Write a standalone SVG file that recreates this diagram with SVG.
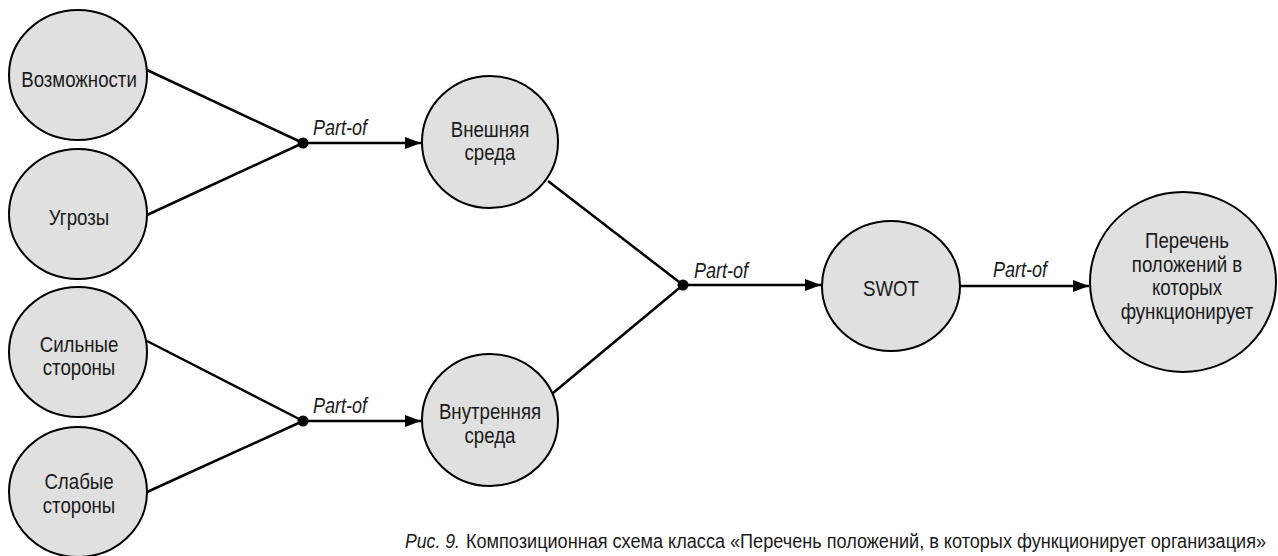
<svg xmlns="http://www.w3.org/2000/svg" width="1278" height="556" viewBox="0 0 1278 556">
<style>
.n ellipse{fill:#e0e0e0;stroke:#000;stroke-width:2}
.n text{font-family:"Liberation Sans",Arial,sans-serif;font-size:22.5px;fill:#1a1a1a;text-anchor:middle}
.c path{fill:none;stroke:#000;stroke-width:2.5}
.lbl{font-family:"Liberation Sans",Arial,sans-serif;font-size:22px;font-style:italic;fill:#1a1a1a}
.cap{font-family:"Liberation Sans",Arial,sans-serif;font-size:20px;fill:#1a1a1a}
</style>
<defs>
<marker id="arr" markerUnits="userSpaceOnUse" markerWidth="18" markerHeight="14" refX="16" refY="6" orient="auto">
<path d="M0,0 L16,6 L0,12 z" fill="#000"/>
</marker>
</defs>
<g id="connectors" class="c">
<path d="M147,70 L303,143"/>
<path d="M147,215 L303,143"/>
<path d="M303,143 L421,143" marker-end="url(#arr)"/>
<path d="M147,341 L303,421"/>
<path d="M147,492 L303,421"/>
<path d="M303,421 L421,421" marker-end="url(#arr)"/>
<path d="M548,181 L683,285"/>
<path d="M553,393 L683,285"/>
<path d="M683,285 L821,285" marker-end="url(#arr)"/>
<path d="M960,286 L1089,286" marker-end="url(#arr)"/>
<circle cx="303" cy="143" r="5.5" fill="#000" stroke="none"/>
<circle cx="303" cy="421" r="5.5" fill="#000" stroke="none"/>
<circle cx="683" cy="285" r="5.5" fill="#000" stroke="none"/>
<text class="lbl" transform="translate(313 135) scale(.82 1)">Part-of</text>
<text class="lbl" transform="translate(313 413) scale(.82 1)">Part-of</text>
<text class="lbl" transform="translate(694 278) scale(.82 1)">Part-of</text>
<text class="lbl" transform="translate(993 277) scale(.82 1)">Part-of</text>
</g>
<g id="n-opportunities" class="n">
<ellipse cx="78" cy="75" rx="69" ry="65"/>
<text transform="translate(79 87) scale(.83 1)">Возможности</text>
</g>
<g id="n-threats" class="n">
<ellipse cx="78" cy="214" rx="69" ry="65"/>
<text transform="translate(79 225) scale(.83 1)">Угрозы</text>
</g>
<g id="n-strengths" class="n">
<ellipse cx="78" cy="352" rx="69" ry="65"/>
<text transform="translate(79 352) scale(.83 1)">Сильные</text>
<text transform="translate(79 375) scale(.83 1)">стороны</text>
</g>
<g id="n-weaknesses" class="n">
<ellipse cx="78" cy="492" rx="69" ry="65"/>
<text transform="translate(79 489) scale(.83 1)">Слабые</text>
<text transform="translate(79 513) scale(.83 1)">стороны</text>
</g>
<g id="n-external" class="n">
<ellipse cx="490" cy="142" rx="68" ry="66"/>
<text transform="translate(490 137) scale(.83 1)">Внешняя</text>
<text transform="translate(490 160) scale(.83 1)">среда</text>
</g>
<g id="n-internal" class="n">
<ellipse cx="490" cy="420" rx="68" ry="66"/>
<text transform="translate(490 419) scale(.83 1)">Внутренняя</text>
<text transform="translate(490 443) scale(.83 1)">среда</text>
</g>
<g id="n-swot" class="n">
<ellipse cx="891" cy="286" rx="69" ry="65"/>
<text transform="translate(891 296) scale(.83 1)">SWOT</text>
</g>
<g id="n-list" class="n">
<ellipse cx="1183" cy="282" rx="93" ry="90"/>
<text transform="translate(1187 248) scale(.83 1)">Перечень</text>
<text transform="translate(1187 272) scale(.83 1)">положений в</text>
<text transform="translate(1187 295) scale(.83 1)">которых</text>
<text transform="translate(1187 319) scale(.83 1)">функционирует</text>
</g>
<g id="caption">
<text class="cap" x="405" y="548" font-style="italic" textLength="55" lengthAdjust="spacingAndGlyphs">Рис. 9.</text>
<text class="cap" x="466" y="548" textLength="800" lengthAdjust="spacingAndGlyphs">Композиционная схема класса «Перечень положений, в которых функционирует организация»</text>
</g>
</svg>
